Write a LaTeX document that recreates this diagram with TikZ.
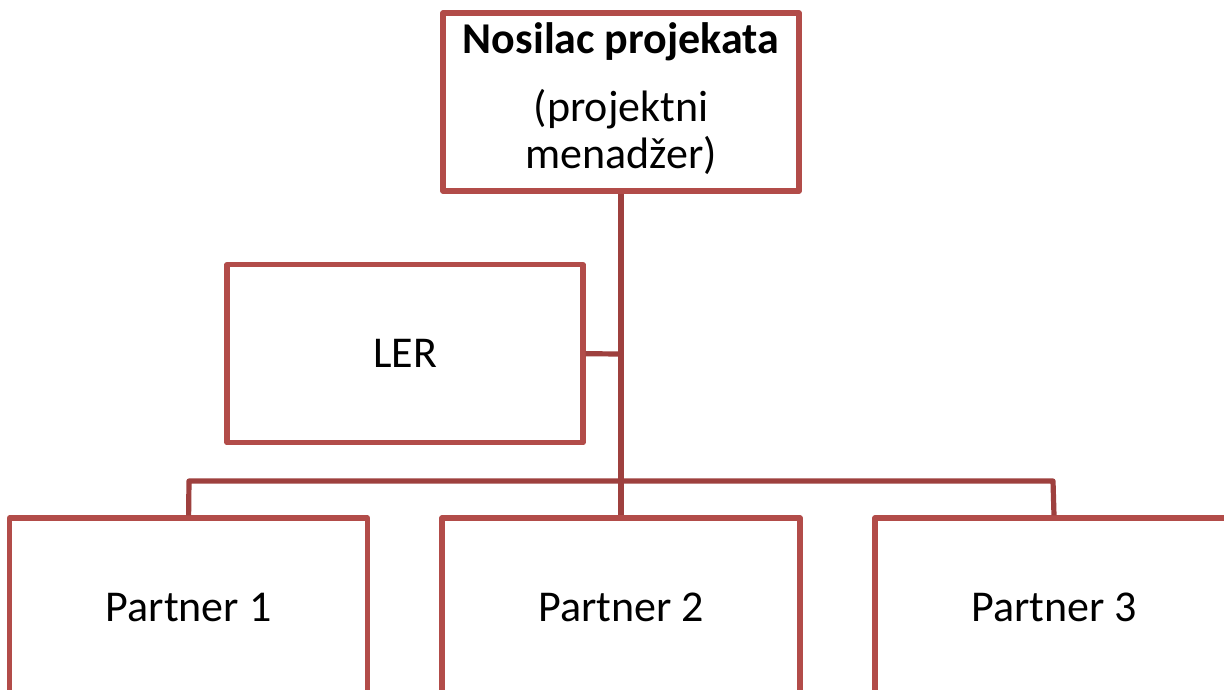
\documentclass[tikz,border=0pt]{standalone}
\usepackage{fontspec}
\setmainfont{Carlito}
\definecolor{boxred}{RGB}{178,76,73}
\definecolor{linered}{RGB}{158,64,62}
\begin{document}
\begin{tikzpicture}[x=1pt,y=-1pt,
  orgbox/.style={draw=boxred,line width=5.2pt,line join=round,fill=white,rectangle,inner sep=0pt,minimum width=356pt,minimum height=178pt,font=\fontsize{44}{46}\selectfont},
  txt/.style={anchor=base,inner sep=0pt,font=\fontsize{44}{46}\selectfont},
  conn/.style={draw=linered,line width=5.2pt,line join=round}]
\clip (0,0) rectangle (1224,689);
\useasboundingbox (0,0) rectangle (1224,689);
\fill[white] (0,0) rectangle (1224,689);
\coordinate (hl) at (189,481);
\coordinate (hr) at (1053,481);
\coordinate (lj) at (621,354);
% boxes
\node[orgbox] (top) at (621,102) {};
\node[orgbox] (ler) at (405,353.7) {LER};
\node[orgbox,minimum width=358pt] (p1) at (188.6,607) {Partner 1};
\node[orgbox,minimum width=358pt] (p2) at (621,607) {Partner 2};
\node[orgbox,minimum width=358pt] (p3) at (1054,607) {Partner 3};
\node[txt,font=\fontsize{44}{46}\selectfont\bfseries] (t1) at (621,53.3) {Nosilac projekata};
\node[txt] (t2) at (621,121.7) {(projektni};
\node[txt] (t3) at (621,168.3) {menadžer)};
% connectors
\draw[conn] (top.south) -- (p2.north);
\draw[conn] (ler.east) -- (lj);
\draw[conn] (p1.north) -- (hl) -- (hr) -- (p3.north);
\end{tikzpicture}
\end{document}
